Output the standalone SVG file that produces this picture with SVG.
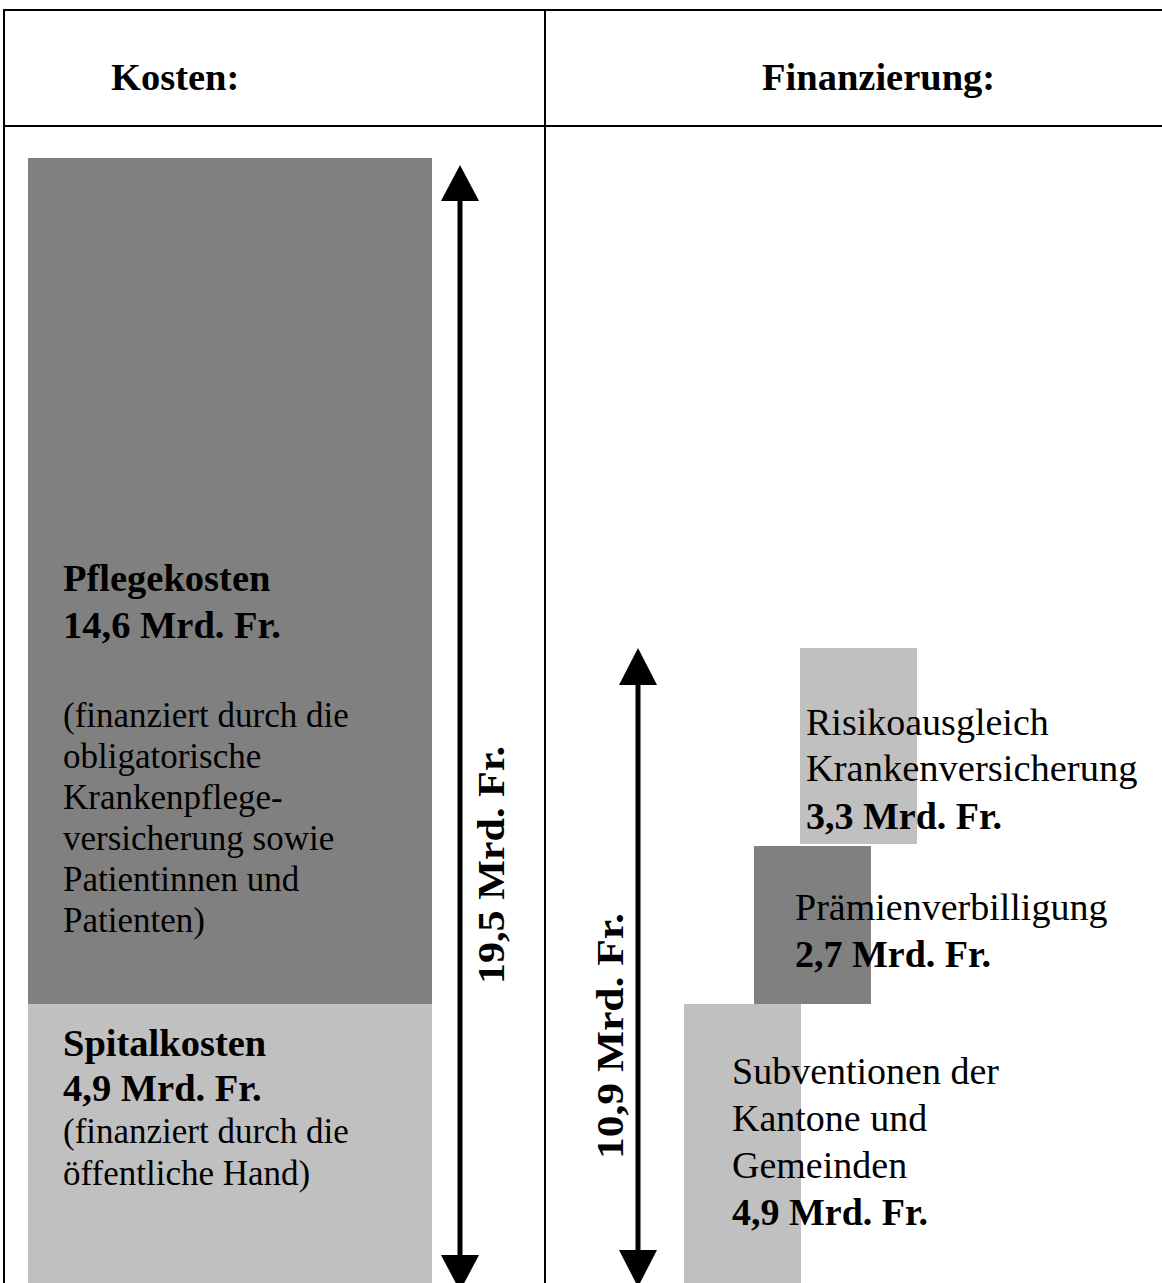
<svg xmlns="http://www.w3.org/2000/svg" width="1162" height="1283" viewBox="0 0 1162 1283">
<style>
text{font-family:"Liberation Serif","Times New Roman",serif;font-size:38px;fill:#000}
.b{font-weight:bold;font-size:38.5px}
.s{font-size:35px}
.dark{fill:#808080}
.light{fill:#c0c0c0}
.grid{stroke:#000;stroke-width:2;fill:none}
.shaft{stroke:#000;stroke-width:5}
.head{fill:#000}
</style>
<rect width="1162" height="1283" fill="#fff"/>
<g id="table">
<line class="grid" x1="4" y1="10" x2="1162" y2="10"/>
<line class="grid" x1="4" y1="126" x2="1162" y2="126"/>
<line class="grid" x1="4" y1="9" x2="4" y2="1283"/>
<line class="grid" x1="545" y1="9" x2="545" y2="1283"/>
<text id="h1" class="b" x="111" y="90">Kosten:</text>
<text id="h2" class="b" x="762" y="90">Finanzierung:</text>
</g>
<g id="pflegekosten">
<rect class="dark" x="28" y="158" width="404" height="846"/>
<text class="b" x="63" y="591">Pflegekosten</text>
<text class="b" x="63" y="638">14,6 Mrd. Fr.</text>
<text class="s" x="63" y="727">(finanziert durch die</text>
<text class="s" x="63" y="768">obligatorische</text>
<text class="s" x="63" y="809">Krankenpflege-</text>
<text class="s" x="63" y="850">versicherung sowie</text>
<text class="s" x="63" y="891">Patientinnen und</text>
<text class="s" x="63" y="932">Patienten)</text>
</g>
<g id="spitalkosten">
<rect class="light" x="28" y="1004" width="404" height="279"/>
<text class="b" x="63" y="1056">Spitalkosten</text>
<text class="b" x="63" y="1101">4,9 Mrd. Fr.</text>
<text class="s" x="63" y="1143">(finanziert durch die</text>
<text class="s" x="63" y="1185">öffentliche Hand)</text>
</g>
<g id="subventionen">
<rect class="light" x="684" y="1004" width="117" height="279"/>
<text x="732" y="1084">Subventionen der</text>
<text x="732" y="1131">Kantone und</text>
<text x="732" y="1178">Gemeinden</text>
<text class="b" x="732" y="1225" style="font-size:38px">4,9 Mrd. Fr.</text>
</g>
<g id="praemienverbilligung">
<rect class="dark" x="754" y="846" width="117" height="158"/>
<text x="795" y="920">Prämienverbilligung</text>
<text class="b" x="795" y="967" style="font-size:38px">2,7 Mrd. Fr.</text>
</g>
<g id="risikoausgleich">
<rect class="light" x="800" y="648" width="117" height="196"/>
<text x="806" y="735">Risikoausgleich</text>
<text x="806" y="781" style="font-size:38.5px">Krankenversicherung</text>
<text class="b" x="806" y="829" style="font-size:38px">3,3 Mrd. Fr.</text>
</g>
<g id="connectors">
<line class="shaft" x1="460" y1="198" x2="460" y2="1258"/>
<path class="head" d="M441,201 L460,165 L479,201 Z"/>
<path class="head" d="M441,1255 L460,1291 L479,1255 Z"/>
<line class="shaft" x1="638" y1="682" x2="638" y2="1253"/>
<path class="head" d="M619,685 L638,648 L657,685 Z"/>
<path class="head" d="M619,1250 L638,1287 L657,1250 Z"/>
<text class="b" transform="translate(504,865) rotate(-90)" text-anchor="middle" textLength="238" lengthAdjust="spacingAndGlyphs">19,5 Mrd. Fr.</text>
<text class="b" transform="translate(623,1036) rotate(-90)" text-anchor="middle" textLength="246" lengthAdjust="spacingAndGlyphs">10,9 Mrd. Fr.</text>
</g>
</svg>
